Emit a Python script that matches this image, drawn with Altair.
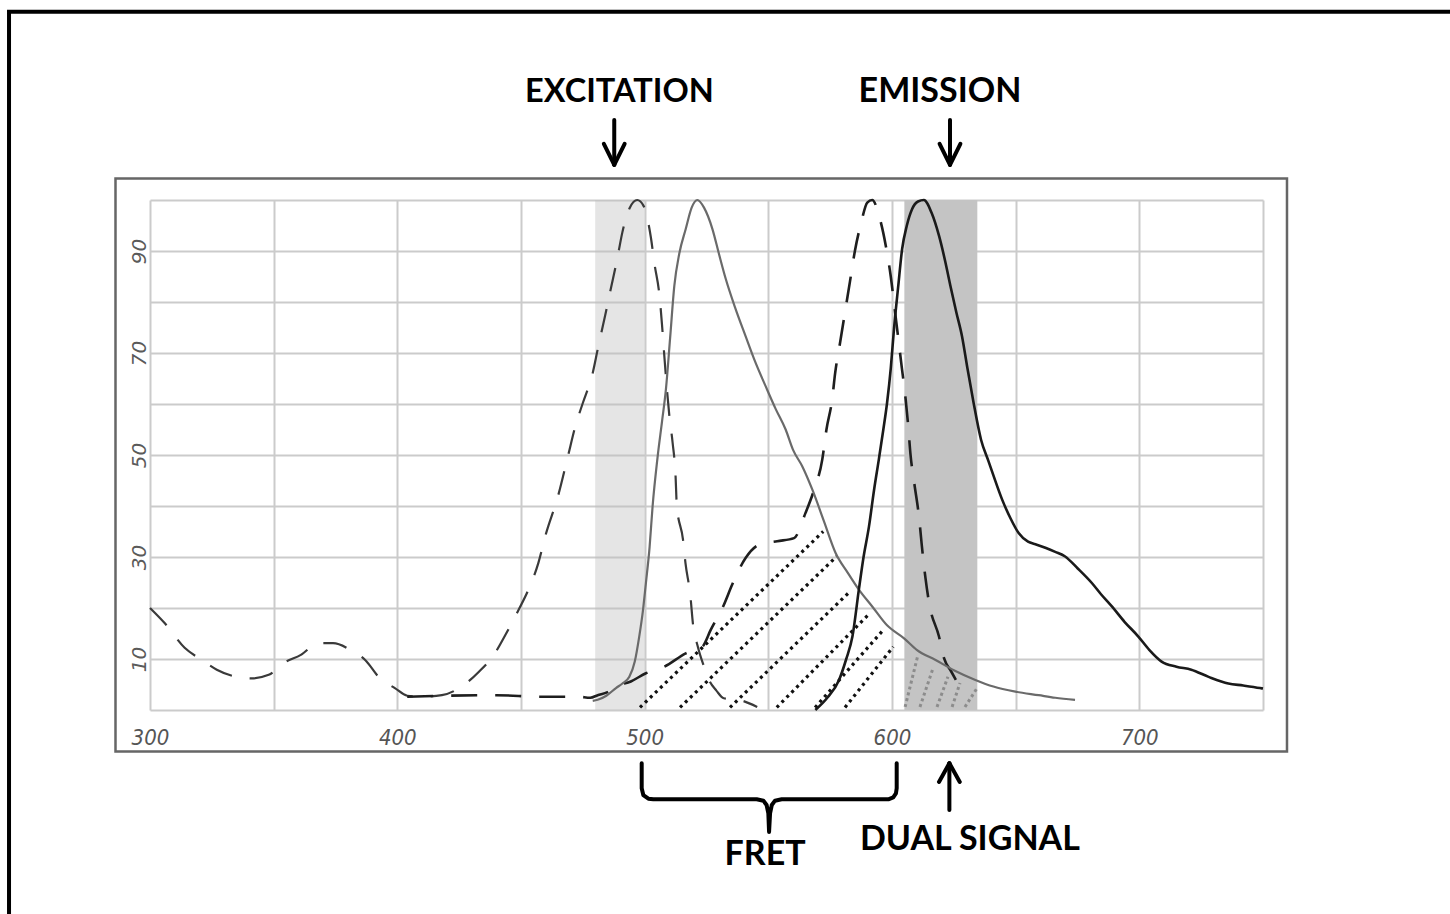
import altair as alt
import pandas as pd

# ---------------------------------------------------------------------------
# Spectra: wavelength (nm) and relative intensity (%)
# ---------------------------------------------------------------------------
donor_ex_nm = [300, 306, 314, 321, 327, 335, 341, 348, 354, 361, 368, 374, 381,
               387, 393, 399, 404, 410, 418, 426, 433, 439, 444, 449, 453, 457,
               460, 465, 469, 472, 475, 479, 481, 484, 486, 489, 491, 494, 497,
               499.5, 502.5, 504, 506, 507, 508, 509, 510, 511.3, 512.5, 513,
               515.5, 516.5, 518.5, 519.5, 521.5, 524, 526, 529, 532, 538, 545.5]
donor_ex_val = [20, 17, 12.2, 9.8, 7.9, 6.5, 6.2, 6.9, 9.2, 10.8, 13.1, 13.1, 11.8,
                9.8, 6.2, 4.3, 2.8, 2.6, 2.9, 4.6, 7.5, 10.8, 15, 19.6, 23.6, 28.8,
                34.4, 42, 49.8, 55.7, 60.2, 66.1, 70.7, 77.3, 81.9, 88.7, 93.7, 98.5, 100,
                98.9, 92.7, 87.4, 81.2, 75.6, 69.1, 62.9, 57.6, 52.4, 45.8, 40,
                33.4, 28.8, 22.3, 17, 12.4, 8.5, 5.9, 3.8, 2.3, 2, 0.6]

acceptor_ex_nm = [404, 420, 440, 458, 466, 473, 478, 481, 485, 488.4, 494.4, 500.5,
                  508, 516.6, 523.3, 526.7, 532, 535.4, 540.8, 546.2, 553.6, 560.4,
                  565, 568.5, 571.8, 573.5, 575.8, 577, 579, 581, 583, 585, 587.5,
                  590, 592, 595, 597.5, 599.5, 601, 602.5, 604, 605.5, 606.5, 607.5,
                  609, 611, 612, 613.5, 615, 619, 621, 624, 627]
acceptor_ex_val = [2.6, 2.8, 2.9, 2.6, 2.6, 2.6, 2.4, 2.9, 3.5, 4.6, 5.6, 7.2,
                   8.5, 11.1, 12.4, 15.7, 20.6, 24.6, 29.8, 32.4, 33.1, 33.7,
                   38.6, 43.2, 49.1, 55, 60.9, 66, 72, 78, 84, 90, 95.5,
                   99.5, 100, 96.5, 91, 85, 79, 73, 67, 61, 56, 50,
                   44.5, 37.5, 32.5, 26, 21, 14.4, 10.2, 7.5, 4.9]

donor_em_nm = [479, 481, 484.5, 488.4, 491, 493.8, 496, 497.8, 499.3, 500.5, 502,
               503.2, 505.2, 507, 508.6, 510.3, 512, 514, 516.6, 519, 521.3, 524,
               527.4, 530, 532.8, 536.5, 540.8, 544.5, 548.9, 553, 557, 560, 563.7,
               567.8, 572.5, 577.2, 582, 586.6, 592, 598, 605, 610, 617.6, 625,
               633.7, 641, 649.9, 659.3, 666, 674]
donor_em_val = [1.8, 2, 2.8, 4.3, 5.2, 6.5, 9.5, 14.4, 19.5, 24.9, 32,
                39.9, 49.5, 56.5, 62.9, 73, 83.2, 89.5, 94.3, 98.5, 100, 98.5,
                94.3, 89.5, 84.5, 79, 73.3, 68.5, 63.5, 59, 55, 51, 47.8,
                43.2, 37, 30.8, 27, 23.6, 20.3, 16.6, 14, 11.8, 9.8, 7.8,
                5.9, 4.6, 3.6, 2.9, 2.4, 2.0]

acceptor_em_nm = [569, 574, 578.6, 581.5, 584, 586.6, 588.5, 590.7, 592.7, 594.7,
                  596.5, 598, 599.5, 600.8, 602.5, 604.1, 606, 608.1, 610.5, 612.9,
                  616, 619, 621.5, 623.6, 626, 628.3, 630.5, 633, 636, 639, 641,
                  644.5, 648, 651.2, 655, 658, 662, 666, 670, 675, 680.8, 684.5,
                  688.9, 694, 699.6, 704, 709, 715, 721, 728, 736, 742, 748.8, 750]
acceptor_em_val = [0, 2.5, 5.9, 10, 14.4, 23.6, 30, 36, 43, 49.2,
                   55, 60.2, 67, 74.7, 83, 90.4, 95, 98.2, 99.7, 100,
                   97.5, 93, 88, 83.2, 78, 73.3, 67, 60.2, 53, 48.8, 46,
                   41.3, 37.5, 34.7, 33, 32.5, 31.8, 31, 30.1, 27.8, 24.9, 22.7,
                   20.3, 17.3, 14.4, 11.8, 9.5, 8.5, 7.9, 6.5, 5.2, 4.8, 4.3, 4.2]

# Filter pass bands (nm)
band_start = [480, 605]
band_end = [500, 634.5]
band_fill = ["#bdbdbd", "#c4c4c4"]
band_opacity = [0.4, 1.0]

# Spectral-overlap hatching (FRET) : start / end of each dotted stroke
fret_x0 = [498.1, 514.3, 534.5, 553.4, 568.9, 581.0]
fret_y0 = [0.5, 0.5, 0.5, 0.5, 0.5, 0.5]
fret_x1 = [572.2, 577.6, 582.3, 591.1, 596.5, 600.5]
fret_y1 = [35.0, 30.1, 22.9, 19.0, 15.7, 12.4]

# Dual-signal hatching inside the emission band
dual_x0 = [605.3, 611.3, 618.2, 624.3, 629.5]
dual_y0 = [0.6, 0.6, 0.6, 0.6, 0.6]
dual_x1 = [610.5, 616.6, 622.6, 627.5, 634.4]
dual_y1 = [10.8, 8.2, 6.5, 5.3, 4.3]

# ---------------------------------------------------------------------------
# Annotation geometry, in axis units (nm, %)
# ---------------------------------------------------------------------------
label_text = ["EXCITATION", "EMISSION", "FRET", "DUAL SIGNAL"]
label_nm = [489.8, 619.4, 548.7, 631.5]
label_val = [121.2, 121.2, -28.5, -25.5]
label_size = [32.5, 34, 34, 34]

# arrows: shaft and two barbs for each of the three arrows
arrow_x0 = [487.7, 487.7, 487.7, 623.45, 623.45, 623.45, 623.2, 623.2, 623.2]
arrow_y0 = [115.7, 106.9, 106.9, 115.7, 106.9, 106.9, -19.6, -10.45, -10.45]
arrow_x1 = [487.7, 483.5, 491.9, 623.45, 619.25, 627.65, 623.2, 619.0, 627.4]
arrow_y1 = [106.9, 111.0, 111.0, 106.9, 111.0, 111.0, -10.45, -14.1, -14.1]

# curly brace under the 500-600 nm span
brace_nm = [498.8, 498.8, 499.45, 501.5, 503.5, 545.3, 548.0, 549.3, 550.0, 550.3,
            550.7, 551.4, 552.7, 555.4, 598.5, 600.5, 601.6, 601.9, 601.9]
brace_val = [-10.45, -15.35, -16.67, -17.39, -17.51, -17.51, -17.78, -18.63, -20.25,
             -23.9, -20.25, -18.63, -17.78, -17.51, -17.51, -17.12, -16.33, -15.35, -10.45]

# inner panel box and outer frame (x0, x1, y0, y1)
panel_box = [286.05, 759.7, 104.2, -8.14]
outer_frame = [243.0, 835.0, 136.9, -45.0]

# ---------------------------------------------------------------------------
x_scale = alt.Scale(domain=[300, 750], nice=False, zero=False)
y_scale = alt.Scale(domain=[0, 100], nice=False, zero=False)

x_axis = alt.Axis(
    values=list(range(300, 751, 50)),
    labelExpr="datum.value % 100 == 0 && datum.value < 750 ? datum.label : ''",
    grid=True, gridColor="#cbcbcb", gridWidth=2,
    domain=False, ticks=False, title=None,
    labelFont="Liberation Sans Narrow, DejaVu Sans Condensed, Liberation Sans",
    labelFontStyle="italic", labelFontSize=22, labelColor="#555555",
    labelPadding=17, labelBaseline="top", labelAlign="center",
    labelFlush=False, labelOverlap=False,
)
y_axis = alt.Axis(
    values=list(range(0, 101, 10)),
    labelExpr="datum.value % 20 == 10 ? datum.label : ''",
    grid=True, gridColor="#cbcbcb", gridWidth=2,
    domain=False, ticks=False, title=None,
    labelFont="DejaVu Sans", labelFontStyle="italic", labelFontSize=20,
    labelColor="#5a5a5a", labelAngle=270, labelAlign="center",
    labelBaseline="alphabetic", labelPadding=5,
    labelFlush=False, labelOverlap=False,
)


def X(field):
    return alt.X(f"{field}:Q", scale=x_scale, axis=x_axis)


def Y(field):
    return alt.Y(f"{field}:Q", scale=y_scale, axis=y_axis)


bands_df = pd.DataFrame({"start": band_start, "end": band_end, "fill": band_fill,
                         "op": band_opacity, "lo": [0, 0], "hi": [100, 100]})
bands = alt.Chart(bands_df).mark_rect().encode(
    x=X("start"), x2="end", y=Y("lo"), y2="hi",
    color=alt.Color("fill:N", scale=None),
    opacity=alt.Opacity("op:Q", scale=None),
)

dual_df = pd.DataFrame({"x0": dual_x0, "y0": dual_y0, "x1": dual_x1, "y1": dual_y1})
dual = alt.Chart(dual_df).mark_rule(
    color="#8c8c8c", strokeWidth=3, strokeDash=[3, 3]
).encode(x=X("x0"), y=Y("y0"), x2="x1", y2="y1")

fret_df = pd.DataFrame({"x0": fret_x0, "y0": fret_y0, "x1": fret_x1, "y1": fret_y1})
fret = alt.Chart(fret_df).mark_rule(
    color="#111111", strokeWidth=3.2, strokeDash=[3, 4]
).encode(x=X("x0"), y=Y("y0"), x2="x1", y2="y1")


def spectrum(nm, val, **style):
    df = pd.DataFrame({"nm": nm, "val": val})
    return alt.Chart(df).mark_line(interpolate="monotone", **style).encode(
        x=X("nm"), y=Y("val")
    )


donor_ex = spectrum(donor_ex_nm, donor_ex_val, color="#3a3a3a", strokeWidth=2.2,
                    strokeDash=[24, 18])
acceptor_ex = spectrum(acceptor_ex_nm, acceptor_ex_val, color="#1e1e1e", strokeWidth=2.6,
                       strokeDash=[26, 18])
donor_em = spectrum(donor_em_nm, donor_em_val, color="#6a6a6a", strokeWidth=2.2)
acceptor_em = spectrum(acceptor_em_nm, acceptor_em_val, color="#1a1a1a", strokeWidth=2.6)

boxes_df = pd.DataFrame({
    "x0": [panel_box[0], outer_frame[0]], "x1": [panel_box[1], outer_frame[1]],
    "y0": [panel_box[2], outer_frame[2]], "y1": [panel_box[3], outer_frame[3]],
    "stroke": ["#666666", "#000000"], "sw": [2.5, 4],
})
boxes = alt.Chart(boxes_df).mark_rect(fillOpacity=0).encode(
    x=X("x0"), x2="x1", y=Y("y0"), y2="y1",
    stroke=alt.Stroke("stroke:N", scale=None),
    strokeWidth=alt.StrokeWidth("sw:Q", scale=None),
)

arrows_df = pd.DataFrame({"x0": arrow_x0, "y0": arrow_y0, "x1": arrow_x1, "y1": arrow_y1})
arrows = alt.Chart(arrows_df).mark_rule(
    color="black", strokeWidth=4, strokeCap="round"
).encode(x=X("x0"), y=Y("y0"), x2="x1", y2="y1")

brace_df = pd.DataFrame({"nm": brace_nm, "val": brace_val, "i": list(range(len(brace_nm)))})
brace = alt.Chart(brace_df).mark_line(
    color="black", strokeWidth=4, strokeJoin="round", strokeCap="round",
    interpolate="linear"
).encode(x=X("nm"), y=Y("val"), order="i:Q")

labels_df = pd.DataFrame({"nm": label_nm, "val": label_val, "txt": label_text,
                          "fs": label_size})
labels = alt.Chart(labels_df).mark_text(
    font="Lato", fontWeight="bold", color="black",
    align="center", baseline="middle"
).encode(x=X("nm"), y=Y("val"), text="txt:N", size=alt.Size("fs:Q", scale=None))

chart = alt.layer(
    bands, dual, fret, donor_ex, acceptor_ex, donor_em, acceptor_em,
    boxes, arrows, brace, labels
).properties(
    width=1113, height=510,
    autosize=alt.AutoSizeParams(type="none"),
    padding={"left": 150, "top": 200, "right": 187, "bottom": 204},
    background="white",
).configure_view(stroke=None)

chart.save("out.html", embed_options={"renderer": "svg", "actions": False})
